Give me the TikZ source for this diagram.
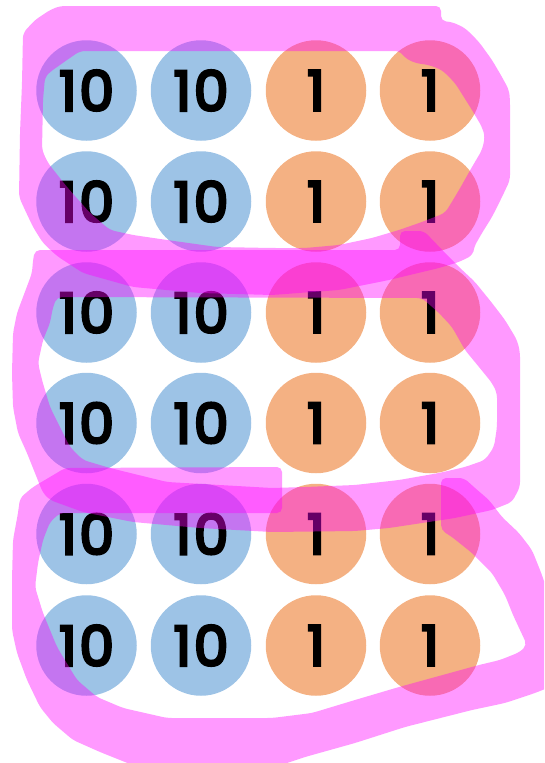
\documentclass[tikz,border=0pt]{standalone}
\usepackage{fontspec}
\setmainfont{Poppins}
\newfontfamily\coinfont{Poppins}[FakeBold=5, LetterSpace=5]
\definecolor{tenblue}{HTML}{9DC3E6}
\definecolor{oneorange}{HTML}{F4B183}
\definecolor{hlpink}{HTML}{FF00FF}
\tikzset{
  coin/.style={circle, minimum size=100.5pt, inner sep=0pt, font=\coinfont\fontsize{55}{55}\selectfont},
  ten/.style={coin, fill=tenblue},
  one/.style={coin, fill=oneorange},
  marker/.style={fill=hlpink, fill opacity=0.4, even odd rule, rounded corners=5pt}
}

\begin{document}
\begin{tikzpicture}[x=1pt,y=-1pt]
\useasboundingbox (0,0) rectangle (544,763);
\clip (0,0) rectangle (544,763);

% coins
\foreach \r/\y in {1/90.5,2/201.5,3/312.5,4/423,5/534,6/645.5} {
  \node[ten] (C\r1) at (86.5,\y) {10};
  \node[ten] (C\r2) at (201,\y) {10};
  \node[one] (C\r3) at (316,\y) {1};
  \node[one] (C\r4) at (430,\y) {1};
}

% first group
\fill[marker] (60,6) -- (441,6) -- (441,21) -- (452,22) -- (465,28) -- (479,42) -- (492,60)
  -- (502,77) -- (509,90) -- (510,100) -- (510,180) -- (502,197) -- (492,217) -- (482,233)
  -- (474,247) -- (473,255) -- (459,262) -- (439,268) -- (389,280) -- (339,290) -- (272,295)
  -- (200,293) -- (133,287) -- (83,273) -- (57,256) -- (43,243) -- (33,227) -- (25,210)
  -- (19,197) -- (20,133) -- (22,83) -- (23,33) -- (35,20) -- (50,10) -- cycle
  (80,51) -- (400,51) -- (405,58) -- (415,63) -- (429,65) -- (442,70) -- (455,83) -- (472,110)
  -- (482,127) -- (485,137) -- (482,150) -- (472,167) -- (459,190) -- (450,205) -- (445,213)
  -- (422,222) -- (399,230) -- (372,238) -- (339,245) -- (305,248) -- (272,248) -- (217,247)
  -- (167,240) -- (133,235) -- (110,230) -- (90,213) -- (67,187) -- (48,163) -- (42,150)
  -- (43,100) -- (45,77) -- (50,72) -- (67,60) -- cycle;

% second group
\fill[marker] (35,250) -- (400,250) -- (400,231) -- (424,231) -- (449,257) -- (459,267)
  -- (475,282) -- (492,303) -- (505,320) -- (517,340) -- (520,352) -- (520,487) -- (512,502)
  -- (492,510) -- (455,518) -- (422,523) -- (389,528) -- (355,531) -- (272,532) -- (200,528)
  -- (133,522) -- (83,512) -- (50,500) -- (43,493) -- (35,473) -- (27,453) -- (18,433)
  -- (13,407) -- (12,373) -- (13,333) -- (17,313) -- (23,297) -- (32,273) -- (33,260) -- cycle
  (57,297) -- (422,298) -- (439,313) -- (452,327) -- (465,350) -- (479,367) -- (492,383)
  -- (497,393) -- (497,427) -- (494,447) -- (485,460) -- (465,467) -- (439,473) -- (399,480)
  -- (355,485) -- (305,487) -- (272,488) -- (167,482) -- (110,468) -- (83,460) -- (70,447)
  -- (60,427) -- (50,407) -- (42,380) -- (38,363) -- (43,340) -- (50,323) -- (53,307) -- cycle;

% third group
\fill[marker] (282,467) -- (65,468) -- (50,477) -- (33,487) -- (20,498) -- (18,513) -- (13,540)
  -- (12,580) -- (12,630) -- (17,653) -- (27,680) -- (40,707) -- (53,723) -- (73,740)
  -- (100,752) -- (140,768) -- (272,768) -- (305,757) -- (355,743) -- (405,727) -- (472,710)
  -- (505,703) -- (535,693) -- (550,687) -- (550,600) -- (542,575) -- (532,550) -- (519,533)
  -- (502,517) -- (489,500) -- (475,488) -- (464,478) -- (441,478) -- (441,530) -- (452,537)
  -- (472,553) -- (492,573) -- (505,595) -- (513,615) -- (527,645) -- (520,652) -- (500,660)
  -- (479,665) -- (439,676) -- (399,687) -- (355,700) -- (312,713) -- (272,718) -- (167,718)
  -- (123,708) -- (97,697) -- (77,680) -- (57,647) -- (43,613) -- (35,587) -- (38,563)
  -- (43,540) -- (50,522) -- (60,513) -- (282,513) -- cycle;
\end{tikzpicture}
\end{document}
